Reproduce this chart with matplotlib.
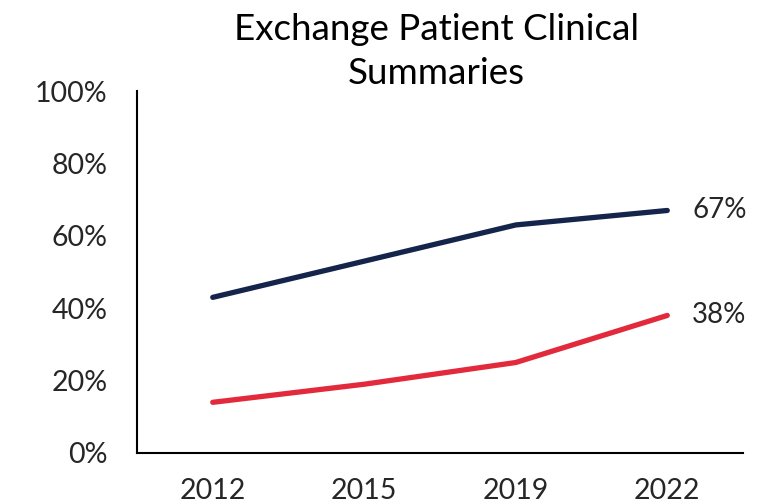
import matplotlib.pyplot as plt
from matplotlib.ticker import PercentFormatter

years = ['2012', '2015', '2019', '2022']
navy_vals = [43, 53, 63, 67]
red_vals = [14, 19, 25, 38]

plt.rcParams['font.family'] = ['Lato', 'DejaVu Sans']
text_color = '#262626'

fig = plt.figure(figsize=(7.71, 5.04), dpi=100)
ax = fig.add_axes([0.1777, 0.1012, 0.786, 0.7182])

x = range(len(years))
ax.plot(x, navy_vals, color='#15244a', linewidth=3.8, solid_capstyle='round')
ax.plot(x, red_vals, color='#e3293c', linewidth=3.8, solid_capstyle='round')

# end labels
ax.annotate(f'{navy_vals[-1]}%', (3, navy_vals[-1]), xytext=(18, 0),
            textcoords='offset points', va='center', ha='left',
            fontsize=20, color=text_color)
ax.annotate(f'{red_vals[-1]}%', (3, red_vals[-1]), xytext=(18, 0),
            textcoords='offset points', va='center', ha='left',
            fontsize=20, color=text_color)

ax.set_xlim(-0.5, 3.5)
ax.set_ylim(0, 100)
ax.set_xticks(list(x))
ax.set_xticklabels(years)
ax.set_yticks([0, 20, 40, 60, 80, 100])
ax.yaxis.set_major_formatter(PercentFormatter(decimals=0))
ax.tick_params(length=0, labelsize=20.5, labelcolor=text_color)
ax.tick_params(axis='y', pad=21)
ax.tick_params(axis='x', pad=18)

for s in ['top', 'right']:
    ax.spines[s].set_visible(False)
for s in ['left', 'bottom']:
    ax.spines[s].set_linewidth(1.5)
    ax.spines[s].set_color('black')

fig.text(0.566, 0.975, 'Exchange Patient Clinical\nSummaries', ha='center', va='top',
         fontsize=26.5, color='black', linespacing=1.42)

fig.savefig('out.png', dpi=100)
